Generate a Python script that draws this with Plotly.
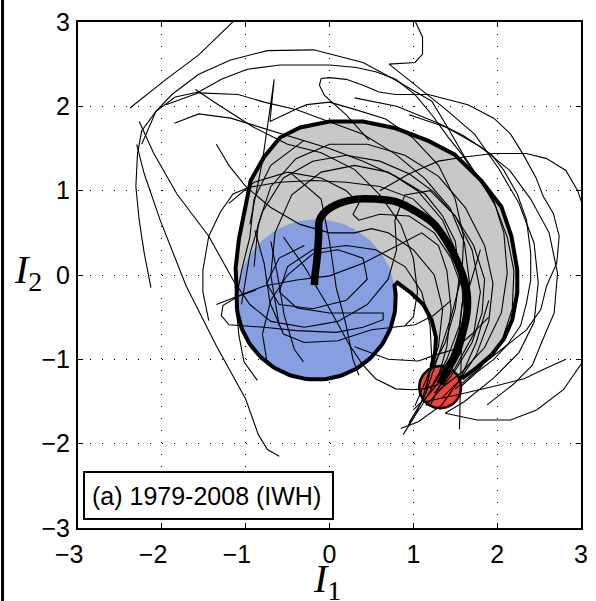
import numpy as np
import plotly.graph_objects as go

# ---- axes ----
TICK_VALS = [-3, -2, -1, 0, 1, 2, 3]
TICK_TEXT_X = ["−3\u2002\u2009", "−2\u2002\u2009", "−1\u2002\u2009", "0", "1", "2", "3"]
TICK_TEXT_Y = ["−3", "−2", "−1", "0", "1", "2", "3"]

# ---- composite region: circles (centre, radius) ----
BLUE_CENTER = (-0.16, -0.29)
BLUE_RADIUS = 0.95
RED_CENTER = (1.32, -1.33)
RED_RADIUS = 0.25

# outer edge of the shaded band (from the red disc, up the right, over the top, down the left)
OUTER_I1 = [1.58, 1.73, 1.93, 2.08, 2.18, 2.24, 2.24, 2.17, 2.05, 1.81, 1.49, 1.18, 0.79,
            0.40, 0.00, -0.35, -0.59, -0.78, -0.94, -1.01, -1.08, -1.12]
OUTER_I2 = [-1.23, -1.12, -0.95, -0.76, -0.53, -0.21, 0.06, 0.46, 0.81, 1.12, 1.43, 1.59, 1.74,
            1.82, 1.82, 1.75, 1.63, 1.40, 1.12, 0.76, 0.43, 0.08]
# arc of the blue disc that closes the band underneath (degrees)
ARC_FROM, ARC_TO = 172, 370
# inner edge of the band, from the cusp down to the red disc
INNER_I1 = [0.81, 0.97, 1.12, 1.22, 1.27, 1.26, 1.22]
INNER_I2 = [-0.09, -0.21, -0.35, -0.54, -0.74, -0.92, -1.07]

# ---- composite mean trajectory ----
MEAN_I1 = [-0.18, -0.17, -0.15, -0.13, -0.12, -0.04, 0.12, 0.32, 0.55, 0.79, 1.02, 1.26,
           1.46, 1.58, 1.64, 1.64, 1.59, 1.52, 1.41, 1.32]
MEAN_I2 = [-0.12, 0.02, 0.18, 0.46, 0.65, 0.76, 0.85, 0.90, 0.90, 0.87, 0.76, 0.59,
           0.29, 0.02, -0.21, -0.45, -0.68, -0.92, -1.12, -1.29]

# ---- individual yearly trajectories (I1, I2) ----
t01_i1 = [-2.38, -1.95, -1.56, -1.15, -1.05]
t01_i2 = [1.98, 2.32, 2.61, 3.00, 3.10]
t02_i1 = [-2.13, -2.21, -2.27, -2.31, -2.29, -2.24, -2.07, -1.88, -1.56, -1.18, -0.74, -0.19, 0.40,
          0.79, 1.22, 1.41, 1.60, 1.80, 1.98, 2.12, 2.20, 2.18, 2.05, 1.80, 1.50]
t02_i2 = [-0.15, 0.26, 0.65, 1.05, 1.44, 1.71, 1.94, 2.14, 2.38, 2.55, 2.66, 2.67, 2.52,
          2.31, 2.06, 1.75, 1.42, 1.12, 0.82, 0.45, 0.05, -0.40, -0.80, -1.10, -1.35]
t03_i1 = [0.98, 1.11, 1.11, 1.02, 0.71, 0.94, 1.38, 1.73, 2.02, 2.26, 2.44, 2.49, 2.44, 2.26,
          1.96, 1.61, 1.38]
t03_i2 = [3.10, 2.82, 2.62, 2.52, 2.50, 2.32, 1.97, 1.67, 1.26, 0.85, 0.38, -0.09, -0.56, -0.92,
          -1.22, -1.50, -1.64]
t04_i1 = [0.47, 0.20, -0.06, -0.12, -0.10, 0.00, 0.20, 0.40, 0.59, 0.79, 1.18, 1.65, 1.96, 2.16,
          2.31, 2.46, 2.55, 2.67, 2.74, 2.71, 2.59, 2.52, 2.35, 2.12, 1.85, 1.55]
t04_i2 = [1.60, 1.90, 2.13, 2.25, 2.33, 2.34, 2.32, 2.25, 2.17, 2.14, 2.14, 2.02, 1.86, 1.67,
          1.43, 1.16, 0.93, 0.73, 0.46, 0.14, -0.13, -0.41, -0.65, -0.83, -1.04, -1.25]
t05_i1 = [0.60, 0.95, 1.30, 1.61, 1.96, 2.35, 2.59, 2.82, 2.96, 3.10, 3.20, 3.10, 3.00, 2.79,
          2.47, 2.16, 1.76, 1.38]
t05_i2 = [1.00, 1.20, 1.35, 1.40, 1.44, 1.44, 1.38, 1.24, 1.00, 0.60, -0.30, -0.90, -1.06, -1.36,
          -1.60, -1.72, -1.72, -1.64]
t06_i1 = [0.95, 1.40, 1.80, 2.15, 2.40, 2.62, 2.72, 2.68, 2.53, 2.42, 2.20, 1.88]
t06_i2 = [1.90, 1.75, 1.52, 1.24, 0.90, 0.50, 0.02, -0.45, -0.80, -1.07, -1.29, -1.54]
t07_i1 = [0.30, 0.80, 1.30, 1.60, 1.93, 2.08, 2.24, 2.35, 2.40, 2.40, 2.35, 2.28, 2.12, 1.96,
          1.76, 1.58]
t07_i2 = [2.10, 2.00, 1.80, 1.65, 1.43, 1.24, 0.96, 0.65, 0.26, -0.06, -0.33, -0.60, -0.83, -1.00,
          -1.15, -1.31]
t08_i1 = [-2.24, -2.07, -1.84, -1.56, -1.29, -0.98, -0.59, 0.00, 0.32, 0.55, 0.79, 1.02, 1.22,
          1.41, 1.58, 1.76, 1.96, 2.08, 2.12, 2.05, 1.85, 1.58, 1.30]
t08_i2 = [1.55, 1.94, 2.11, 2.17, 2.32, 2.44, 2.49, 2.49, 2.46, 2.41, 2.32, 2.14, 1.90,
          1.64, 1.43, 1.16, 0.88, 0.50, 0.02, -0.45, -0.86, -1.15, -1.37]
t09_i1 = [-1.95, -1.56, -1.09, -0.78, -0.39, 0.00, 0.40, 0.79, 1.14, 1.44, 1.61, 1.67,
          1.61, 1.44, 1.26]
t09_i2 = [2.02, 2.16, 2.14, 2.05, 1.96, 1.82, 1.67, 1.43, 1.14, 0.79, 0.38, -0.09,
          -0.56, -0.98, -1.27]
t10_i1 = [-1.85, -1.56, -1.18, -0.78, -0.39, 0.00, 0.40, 0.79, 1.14, 1.35, 1.50,
          1.55, 1.50, 1.38, 1.20, 1.10, 0.95]
t10_i2 = [1.80, 1.91, 1.86, 1.74, 1.62, 1.50, 1.35, 1.17, 0.96, 0.70, 0.40,
          0.00, -0.40, -0.80, -1.15, -1.50, -1.75]
t11_i1 = [-0.95, -0.88, -0.80, -0.72, -0.66, -0.71, -0.55, -0.39, -0.27, 0.00, 0.28, 0.67, 1.00,
          1.30, 1.50, 1.60, 1.58, 1.45, 1.30, 1.15]
t11_i2 = [0.60, 0.96, 1.35, 1.90, 2.32, 1.82, 1.90, 1.97, 2.02, 2.05, 1.97, 1.85, 1.62,
          1.30, 0.90, 0.45, 0.00, -0.50, -0.95, -1.40]
t12_i1 = [-0.90, -0.85, -0.70, -0.40, 0.00, 0.45, 0.90, 1.30, 1.62, 1.85, 1.95, 1.90, 1.75, 1.55, 1.35]
t12_i2 = [0.10, 0.60, 1.05, 1.38, 1.55, 1.55, 1.42, 1.17, 0.80, 0.35, -0.10, -0.55, -0.95, -1.25, -1.45]
t13_i1 = [-0.60, -0.70, -0.65, -0.45, -0.10, 0.30, 0.70, 1.05, 1.35, 1.52, 1.60, 1.55, 1.45, 1.32, 1.20]
t13_i2 = [-0.60, 0.00, 0.50, 0.95, 1.22, 1.30, 1.22, 1.00, 0.65, 0.25, -0.20, -0.65, -1.00, -1.30, -1.55]
t14_i1 = [-1.05, -0.95, -0.80, -0.55, -0.20, 0.20, 0.60, 0.95, 1.25, 1.50, 1.72, 1.85, 1.82, 1.70,
          1.52, 1.35, 1.15]
t14_i2 = [-0.35, 0.25, 0.75, 1.15, 1.35, 1.42, 1.35, 1.20, 0.98, 0.70, 0.35, -0.05, -0.45, -0.80,
          -1.10, -1.33, -1.55]
t15_i1 = [-1.20, -0.90, -0.50, -0.10, 0.20, 0.35, 0.28, 0.35, 0.60, 0.95, 1.25, 1.45, 1.58, 1.62,
          1.55, 1.40, 1.20, 1.00]
t15_i2 = [0.85, 1.10, 1.22, 1.15, 1.00, 0.85, 0.72, 0.65, 0.72, 0.70, 0.50, 0.20, -0.15, -0.50,
          -0.85, -1.15, -1.40, -1.60]
t16_i1 = [-0.88, -1.08, -1.27, -1.29, -1.20, -0.78, -0.39, 0.08, 0.40, 0.64, 0.64, 0.32, 0.00,
          -0.39, -0.60, -0.50, -0.20, 0.20, 0.55, 0.90, 1.10, 1.20, 1.22, 1.15, 1.00, 0.88]
t16_i2 = [-0.18, -0.25, -0.36, -0.48, -0.59, -0.62, -0.66, -0.68, -0.62, -0.53, -0.45, -0.45, -0.45,
          -0.39, -0.20, 0.10, 0.30, 0.35, 0.30, 0.10, -0.20, -0.60, -1.00, -1.40, -1.70, -1.89]
t17_i1 = [-1.35, -1.09, -0.78, -0.39, 0.00, 0.40, 0.64, 0.87, 1.10, 1.30, 1.40, 1.45, 1.40, 1.30,
          1.10, 0.94]
t17_i2 = [-0.35, -0.25, -0.13, -0.06, -0.01, 0.14, 0.26, 0.38, 0.50, 0.35, 0.05, -0.40, -0.85, -1.20,
          -1.55, -1.78]
t18_i1 = [-2.30, -2.25, -2.21, -2.02, -1.71, -1.35, -1.00, -0.85, -0.74, -0.60]
t18_i2 = [1.55, 1.35, 1.20, 0.65, -0.13, -0.84, -1.47, -1.89, -2.07, -2.15]
t19_i1 = [-2.27, -2.10, -1.82, -1.44, -1.15, -0.95, -0.70, -0.30, 0.10, 0.45, 0.70, 0.80, 0.78,
          0.90, 1.20, 1.50, 1.70, 1.80, 1.72, 1.50, 1.25]
t19_i2 = [1.82, 1.45, 0.96, 0.46, -0.06, -0.35, -0.55, -0.62, -0.55, -0.35, -0.05, 0.30, 0.65,
          0.95, 1.00, 0.70, 0.30, -0.20, -0.70, -1.10, -1.40]
t20_i1 = [-1.44, -1.51, -1.51, -1.44, -1.30, -1.15, -0.96, -0.60, -0.20, 0.20, 0.60, 1.00, 1.30,
          1.50, 1.60, 1.55, 1.40, 1.20]
t20_i2 = [-0.54, -0.20, 0.06, 0.46, 0.75, 0.96, 1.04, 1.10, 1.12, 1.10, 1.05, 0.90, 0.60,
          0.20, -0.20, -0.60, -1.00, -1.35]
t21_i1 = [-0.30, -0.70, -0.90, -0.95, -1.05, -1.12, -1.08, -1.02, -0.86]
t21_i2 = [1.60, 1.30, 0.90, 0.45, 0.05, -0.33, -0.72, -1.03, -1.25]
t22_i1 = [-0.45, -0.10, 0.00, 0.08, 0.20, 0.28, 0.35]
t22_i2 = [1.20, 0.90, 0.40, -0.15, -0.60, -1.00, -1.19]
t23_i1 = [-0.55, -0.30, 0.00, 0.25, 0.40, 0.55, 0.79, 0.99, 1.11, 1.30]
t23_i2 = [0.45, 0.10, -0.40, -0.85, -1.07, -1.23, -1.35, -1.36, -1.35, -1.30]
t24_i1 = [-0.70, -0.62, -0.54, -0.42, -0.31]
t24_i2 = [0.40, 0.00, -0.48, -0.88, -1.03]
t25_i1 = [-0.89, -0.78, -0.71, -0.55, -0.30, 0.10, 0.50, 0.79, 1.02, 1.24, 1.45]
t25_i2 = [0.53, 0.14, -0.33, -0.70, -0.80, -0.78, -0.65, -0.62, -0.59, -0.48, -0.30]
t26_i1 = [0.30, 0.70, 1.06, 1.26, 1.49, 1.70, 1.90]
t26_i2 = [-0.85, -1.00, -1.02, -0.95, -0.88, -0.70, -0.50]
t27_i1 = [1.15, 1.53, 2.00, 2.32, 2.55, 2.82]
t27_i2 = [-1.50, -1.42, -1.31, -1.23, -1.12, -1.00]
t28_i1 = [1.80, 1.65, 1.58, 1.57, 1.56, 1.55]
t28_i2 = [0.30, -0.20, -0.60, -1.00, -1.35, -1.83]
t29_i1 = [1.90, 1.75, 1.55, 1.34, 1.06, 0.85]
t29_i2 = [-0.30, -0.80, -1.25, -1.54, -1.74, -1.82]
t30_i1 = [-1.35, -1.20, -1.00, -0.70, -0.35, 0.00, 0.30, 0.50, 0.70, 1.00, 1.25, 1.35, 1.30, 1.15, 1.02]
t30_i2 = [1.55, 1.30, 1.05, 0.80, 0.60, 0.50, 0.50, 0.55, 0.50, 0.30, 0.00, -0.40, -0.85, -1.25, -1.55]
t31_i1 = [-1.60, -1.30, -0.90, -0.50, -0.10, 0.30, 0.60, 0.85, 1.00, 1.05, 1.00, 0.90]
t31_i2 = [2.20, 2.00, 1.75, 1.55, 1.45, 1.25, 0.95, 0.60, 0.20, -0.20, -0.50, -0.60]
t32_i1 = [-0.30, -0.60, -0.75, -0.60, -0.20, 0.20, 0.45, 0.40, 0.10, -0.20, -0.50, -0.70, -0.80, -0.75]
t32_i2 = [0.35, 0.20, -0.10, -0.35, -0.40, -0.30, -0.05, 0.20, 0.30, 0.25, 0.00, -0.30, -0.70, -1.00]

TRAJECTORIES = [
    (t01_i1, t01_i2), (t02_i1, t02_i2), (t03_i1, t03_i2), (t04_i1, t04_i2), (t05_i1, t05_i2),
    (t06_i1, t06_i2), (t07_i1, t07_i2), (t08_i1, t08_i2), (t09_i1, t09_i2), (t10_i1, t10_i2),
    (t11_i1, t11_i2), (t12_i1, t12_i2), (t13_i1, t13_i2), (t14_i1, t14_i2), (t15_i1, t15_i2),
    (t16_i1, t16_i2), (t17_i1, t17_i2), (t18_i1, t18_i2), (t19_i1, t19_i2), (t20_i1, t20_i2),
    (t21_i1, t21_i2), (t22_i1, t22_i2), (t23_i1, t23_i2), (t24_i1, t24_i2), (t25_i1, t25_i2),
    (t26_i1, t26_i2), (t27_i1, t27_i2), (t28_i1, t28_i2), (t29_i1, t29_i2), (t30_i1, t30_i2),
    (t31_i1, t31_i2), (t32_i1, t32_i2),
]

PANEL_LABEL = "(a) 1979-2008 (IWH)"

GRAY = "#c8c8c8"
BLUE = "#879fe1"
RED = "#ef4438"
SANS = "Liberation Sans, Arial, sans-serif"
SERIF = "Liberation Serif, Times New Roman, serif"


def disc(center, radius, a0=0.0, a1=360.0, n=120):
    t = np.radians(np.linspace(a0, a1, n))
    return center[0] + radius * np.cos(t), center[1] + radius * np.sin(t)


# band outline: outer edge, blue-disc arc, inner edge, closed
arc_x, arc_y = disc(BLUE_CENTER, BLUE_RADIUS, ARC_FROM, ARC_TO, 80)
band_x = list(OUTER_I1) + list(arc_x) + list(INNER_I1) + [OUTER_I1[0]]
band_y = list(OUTER_I2) + list(arc_y) + list(INNER_I2) + [OUTER_I2[0]]

fig = go.Figure()

# shaded band
fig.add_trace(go.Scatter(x=band_x, y=band_y, mode="lines", fill="toself",
                         fillcolor=GRAY, line=dict(width=0), hoverinfo="skip"))
# blue disc
bx, by = disc(BLUE_CENTER, BLUE_RADIUS)
fig.add_trace(go.Scatter(x=bx, y=by, mode="lines", fill="toself",
                         fillcolor=BLUE, line=dict(width=0), hoverinfo="skip"))
# band outline
fig.add_trace(go.Scatter(x=band_x, y=band_y, mode="lines",
                         line=dict(color="black", width=4), hoverinfo="skip"))
# red disc
rx, ry = disc(RED_CENTER, RED_RADIUS)
fig.add_trace(go.Scatter(x=rx, y=ry, mode="lines", fill="toself",
                         fillcolor=RED, line=dict(color="black", width=2.5), hoverinfo="skip"))

# yearly trajectories
for xs, ys in TRAJECTORIES:
    fig.add_trace(go.Scatter(x=xs, y=ys, mode="lines",
                             line=dict(color="black", width=1.1), hoverinfo="skip"))

# composite mean
fig.add_trace(go.Scatter(x=MEAN_I1, y=MEAN_I2, mode="lines", line_shape="spline",
                         line=dict(color="black", width=7.5), hoverinfo="skip"))

axis_common = dict(
    range=[-3, 3], tickmode="array", tickvals=TICK_VALS,
    ticks="inside", ticklen=5, tickwidth=1, tickcolor="black",
    showline=True, linecolor="black", linewidth=2, mirror="ticks",
    showgrid=True, gridcolor="black", gridwidth=1, griddash="1px,11px",
    zeroline=False, fixedrange=True,
    tickfont=dict(family=SANS, size=25, color="black"),
)

fig.update_xaxes(**axis_common, ticktext=TICK_TEXT_X, ticklabelstandoff=3)
fig.update_yaxes(**axis_common, ticktext=TICK_TEXT_Y, ticklabelstandoff=1)

fig.update_layout(
    width=596, height=601,
    margin=dict(l=78, r=8, t=17, b=73),
    paper_bgcolor="white", plot_bgcolor="white",
    showlegend=False,
    annotations=[
        dict(text=PANEL_LABEL, xref="paper", yref="paper", x=0.0098, y=0.0157,
             xanchor="left", yanchor="bottom", showarrow=False, align="left",
             font=dict(family=SANS, size=25, color="black"),
             bgcolor="white", bordercolor="black", borderwidth=2, borderpad=7,
             width=233, height=31),
        dict(text="<i>I</i><sub>1</sub>", xref="paper", yref="paper", x=0.496, y=-0.105,
             xanchor="center", yanchor="middle", showarrow=False,
             font=dict(family=SERIF, size=40, color="black")),
        dict(text="<i>I</i><sub>2</sub>", xref="paper", yref="paper", x=-0.100, y=0.505,
             xanchor="center", yanchor="middle", showarrow=False,
             font=dict(family=SERIF, size=40, color="black")),
    ],
    shapes=[
        dict(type="line", xref="paper", yref="paper", x0=-0.150, x1=-0.150, y0=-0.2, y1=1.1,
             line=dict(color="black", width=3)),
    ],
)

fig.write_html("out.html")
